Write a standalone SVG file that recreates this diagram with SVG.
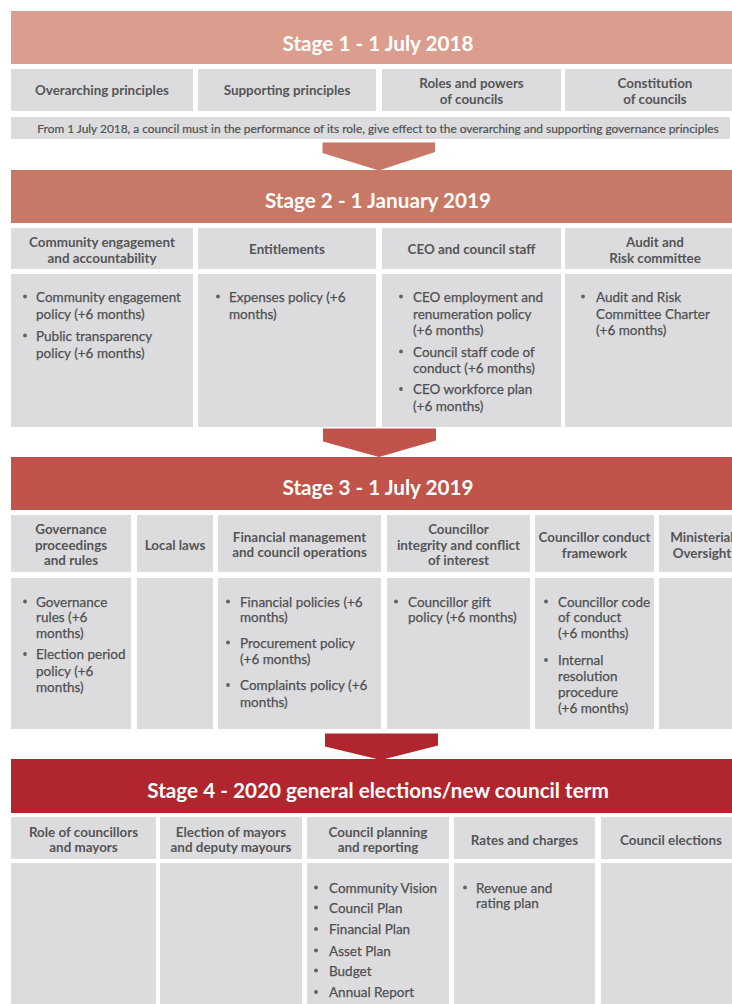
<svg xmlns="http://www.w3.org/2000/svg" width="732" height="1004" viewBox="0 0 732 1004">
  <style>
    .bg { fill: #ffffff; }
    .cell { fill: #dcdcde; }
    .hdr1 { fill: #db9d8d; }
    .hdr2 { fill: #c87866; }
    .hdr3 { fill: #c0534a; }
    .hdr4 { fill: #b1252e; }
    .htxt { font-family: Lato, "Liberation Sans", sans-serif; font-weight: bold; font-size: 20.7px; fill: #ffffff; text-anchor: middle; }
    .ttl { font-family: Lato, "Liberation Sans", sans-serif; font-weight: bold; font-size: 13.4px; fill: #545557; text-anchor: middle; }
    .note { font-family: Lato, "Liberation Sans", sans-serif; font-size: 11.9px; fill: #4f5052; stroke: #4f5052; stroke-width: 0.2; text-anchor: middle; }
    .body { font-family: Lato, "Liberation Sans", sans-serif; font-size: 13.5px; fill: #4f5052; stroke: #4f5052; stroke-width: 0.25; }
    .dot { fill: #5f6063; }
  </style>

  <rect class="bg" x="0" y="0" width="732" height="1004"/>

  <!-- Stage 1 -->
  <g id="stage1">
    <g id="stage1-header">
      <rect class="hdr1" x="11" y="11" width="734" height="53"/>
      <text class="htxt" x="378" y="50.5">Stage 1 - 1 July 2018</text>
    </g>
    <g id="s1-overarching">
      <rect class="cell" x="11" y="69" width="182" height="42"/>
      <text class="ttl" x="102" y="94.5">Overarching principles</text>
    </g>
    <g id="s1-supporting">
      <rect class="cell" x="198" y="69" width="178" height="42"/>
      <text class="ttl" x="287" y="94.5">Supporting principles</text>
    </g>
    <g id="s1-roles">
      <rect class="cell" x="382" y="69" width="179" height="42"/>
      <text class="ttl" x="471.5" y="88">Roles and powers</text>
      <text class="ttl" x="471.5" y="104">of councils</text>
    </g>
    <g id="s1-constitution">
      <rect class="cell" x="565" y="69" width="180" height="42"/>
      <text class="ttl" x="655" y="88">Constitution</text>
      <text class="ttl" x="655" y="104">of councils</text>
    </g>
    <g id="s1-note">
      <rect class="cell" x="11" y="117" width="719" height="22"/>
      <text class="note" x="378" y="132.5">From 1 July 2018, a council must in the performance of its role, give effect to the overarching and supporting governance principles</text>
    </g>
  </g>

  <!-- Stage 2 -->
  <g id="stage2">
    <g id="stage2-header">
      <rect class="hdr2" x="11" y="170" width="734" height="53"/>
      <text class="htxt" x="378" y="207.5">Stage 2 - 1 January 2019</text>
    </g>
    <g id="s2-community">
      <rect class="cell" x="11" y="228" width="182" height="41"/>
      <text class="ttl" x="102" y="246.5">Community engagement</text>
      <text class="ttl" x="102" y="262.5">and accountability</text>
      <rect class="cell" x="11" y="274" width="182" height="153"/>
      <circle class="dot" cx="25" cy="296.5" r="1.9"/>
      <text class="body" x="36" y="301.5">Community engagement</text>
      <text class="body" x="36" y="319">policy (+6 months)</text>
      <circle class="dot" cx="25" cy="335.5" r="1.9"/>
      <text class="body" x="36" y="340.5">Public transparency</text>
      <text class="body" x="36" y="357.5">policy (+6 months)</text>
    </g>
    <g id="s2-entitlements">
      <rect class="cell" x="198" y="228" width="178" height="41"/>
      <text class="ttl" x="287" y="253.5">Entitlements</text>
      <rect class="cell" x="198" y="274" width="178" height="153"/>
      <circle class="dot" cx="218" cy="296.5" r="1.9"/>
      <text class="body" x="229" y="301.5">Expenses policy (+6</text>
      <text class="body" x="229" y="319">months)</text>
    </g>
    <g id="s2-ceo">
      <rect class="cell" x="382" y="228" width="179" height="41"/>
      <text class="ttl" x="471.5" y="253.5">CEO and council staff</text>
      <rect class="cell" x="382" y="274" width="179" height="153"/>
      <circle class="dot" cx="401" cy="296.5" r="1.9"/>
      <text class="body" x="413" y="301.5">CEO employment and</text>
      <text class="body" x="413" y="318.5">renumeration policy</text>
      <text class="body" x="413" y="335">(+6 months)</text>
      <circle class="dot" cx="401" cy="351.5" r="1.9"/>
      <text class="body" x="413" y="356.5">Council staff code of</text>
      <text class="body" x="413" y="373">conduct (+6 months)</text>
      <circle class="dot" cx="401" cy="389" r="1.9"/>
      <text class="body" x="413" y="394">CEO workforce plan</text>
      <text class="body" x="413" y="410.5">(+6 months)</text>
    </g>
    <g id="s2-audit">
      <rect class="cell" x="565" y="228" width="180" height="41"/>
      <text class="ttl" x="655" y="246.5">Audit and</text>
      <text class="ttl" x="655" y="262.5">Risk committee</text>
      <rect class="cell" x="565" y="274" width="180" height="153"/>
      <circle class="dot" cx="583" cy="296.5" r="1.9"/>
      <text class="body" x="596" y="301.5">Audit and Risk</text>
      <text class="body" x="596" y="318.5">Committee Charter</text>
      <text class="body" x="596" y="335">(+6 months)</text>
    </g>
  </g>

  <!-- Stage 3 -->
  <g id="stage3">
    <g id="stage3-header">
      <rect class="hdr3" x="11" y="457" width="734" height="53"/>
      <text class="htxt" x="378" y="494.5">Stage 3 - 1 July 2019</text>
    </g>
    <g id="s3-governance">
      <rect class="cell" x="11" y="515" width="120" height="57"/>
      <text class="ttl" x="71" y="533.5">Governance</text>
      <text class="ttl" x="71" y="549.5">proceedings</text>
      <text class="ttl" x="71" y="565">and rules</text>
      <rect class="cell" x="11" y="578" width="120" height="151"/>
      <circle class="dot" cx="25" cy="601.5" r="1.9"/>
      <text class="body" x="36" y="606.5">Governance</text>
      <text class="body" x="36" y="622">rules (+6</text>
      <text class="body" x="36" y="638">months)</text>
      <circle class="dot" cx="25" cy="654" r="1.9"/>
      <text class="body" x="36" y="659">Election period</text>
      <text class="body" x="36" y="675.5">policy (+6</text>
      <text class="body" x="36" y="691.5">months)</text>
    </g>
    <g id="s3-local-laws">
      <rect class="cell" x="137" y="515" width="76" height="57"/>
      <text class="ttl" x="175" y="550">Local laws</text>
      <rect class="cell" x="137" y="578" width="76" height="151"/>
    </g>
    <g id="s3-financial">
      <rect class="cell" x="218" y="515" width="163" height="57"/>
      <text class="ttl" x="299.5" y="541.5">Financial management</text>
      <text class="ttl" x="299.5" y="557">and council operations</text>
      <rect class="cell" x="218" y="578" width="163" height="151"/>
      <circle class="dot" cx="228" cy="601.5" r="1.9"/>
      <text class="body" x="240" y="606.5">Financial policies (+6</text>
      <text class="body" x="240" y="621.5">months)</text>
      <circle class="dot" cx="228" cy="642.5" r="1.9"/>
      <text class="body" x="240" y="647.5">Procurement policy</text>
      <text class="body" x="240" y="664">(+6 months)</text>
      <circle class="dot" cx="228" cy="685" r="1.9"/>
      <text class="body" x="240" y="690">Complaints policy (+6</text>
      <text class="body" x="240" y="706.5">months)</text>
    </g>
    <g id="s3-integrity">
      <rect class="cell" x="387" y="515" width="143" height="57"/>
      <text class="ttl" x="458.5" y="533.5">Councillor</text>
      <text class="ttl" x="458.5" y="549.5">integrity and conflict</text>
      <text class="ttl" x="458.5" y="565">of interest</text>
      <rect class="cell" x="387" y="578" width="143" height="151"/>
      <circle class="dot" cx="396" cy="601.5" r="1.9"/>
      <text class="body" x="408" y="606.5">Councillor gift</text>
      <text class="body" x="408" y="621.5">policy (+6 months)</text>
    </g>
    <g id="s3-conduct">
      <rect class="cell" x="535" y="515" width="119" height="57"/>
      <text class="ttl" x="594.5" y="541.5">Councillor conduct</text>
      <text class="ttl" x="594.5" y="558">framework</text>
      <rect class="cell" x="535" y="578" width="119" height="151"/>
      <circle class="dot" cx="546" cy="601.5" r="1.9"/>
      <text class="body" x="558" y="606.5">Councillor code</text>
      <text class="body" x="558" y="621.5">of conduct</text>
      <text class="body" x="558" y="638">(+6 months)</text>
      <circle class="dot" cx="546" cy="660" r="1.9"/>
      <text class="body" x="558" y="665">Internal</text>
      <text class="body" x="558" y="681">resolution</text>
      <text class="body" x="558" y="696.5">procedure</text>
      <text class="body" x="558" y="713">(+6 months)</text>
    </g>
    <g id="s3-ministerial">
      <rect class="cell" x="659" y="515" width="86" height="57"/>
      <text class="ttl" x="702" y="541.5">Ministerial</text>
      <text class="ttl" x="702" y="558">Oversight</text>
      <rect class="cell" x="659" y="578" width="86" height="151"/>
    </g>
  </g>

  <!-- Stage 4 -->
  <g id="stage4">
    <g id="stage4-header">
      <rect class="hdr4" x="11" y="759" width="734" height="54"/>
      <text class="htxt" x="378" y="797.5">Stage 4 - 2020 general elections/new council term</text>
    </g>
    <g id="s4-role">
      <rect class="cell" x="11" y="817" width="145" height="42"/>
      <text class="ttl" x="83.5" y="836.5">Role of councillors</text>
      <text class="ttl" x="83.5" y="852">and mayors</text>
      <rect class="cell" x="11" y="863" width="145" height="150"/>
    </g>
    <g id="s4-election-mayors">
      <rect class="cell" x="160" y="817" width="142" height="42"/>
      <text class="ttl" x="231" y="836.5">Election of mayors</text>
      <text class="ttl" x="231" y="852">and deputy mayours</text>
      <rect class="cell" x="160" y="863" width="142" height="150"/>
    </g>
    <g id="s4-planning">
      <rect class="cell" x="307" y="817" width="142" height="42"/>
      <text class="ttl" x="378" y="836.5">Council planning</text>
      <text class="ttl" x="378" y="852">and reporting</text>
      <rect class="cell" x="307" y="863" width="142" height="150"/>
      <circle class="dot" cx="316" cy="887.5" r="1.9"/>
      <text class="body" x="329" y="892.5">Community Vision</text>
      <circle class="dot" cx="316" cy="907.5" r="1.9"/>
      <text class="body" x="329" y="912.5">Council Plan</text>
      <circle class="dot" cx="316" cy="929" r="1.9"/>
      <text class="body" x="329" y="934">Financial Plan</text>
      <circle class="dot" cx="316" cy="950.5" r="1.9"/>
      <text class="body" x="329" y="955.5">Asset Plan</text>
      <circle class="dot" cx="316" cy="970.5" r="1.9"/>
      <text class="body" x="329" y="975.5">Budget</text>
      <circle class="dot" cx="316" cy="992" r="1.9"/>
      <text class="body" x="329" y="997">Annual Report</text>
    </g>
    <g id="s4-rates">
      <rect class="cell" x="454" y="817" width="141" height="42"/>
      <text class="ttl" x="524.5" y="844.5">Rates and charges</text>
      <rect class="cell" x="454" y="863" width="141" height="150"/>
      <circle class="dot" cx="465" cy="887.5" r="1.9"/>
      <text class="body" x="476" y="892.5">Revenue and</text>
      <text class="body" x="476" y="908">rating plan</text>
    </g>
    <g id="s4-elections">
      <rect class="cell" x="601" y="817" width="144" height="42"/>
      <text class="ttl" x="671" y="844.5">Council elections</text>
      <rect class="cell" x="601" y="863" width="144" height="150"/>
    </g>
  </g>

  <!-- Chevron connectors between stages -->
  <g id="connectors">
    <polygon class="hdr2" points="322.5,142.5 435,142.5 435,152 379,170.5 322.5,153"/>
    <polygon class="hdr3" points="323,428.5 436,428.5 436,440.5 379,457 323,441.5"/>
    <polygon class="hdr4" points="325,733.5 438,733.5 438,745.5 381,760 325,746.5"/>
  </g>
</svg>
